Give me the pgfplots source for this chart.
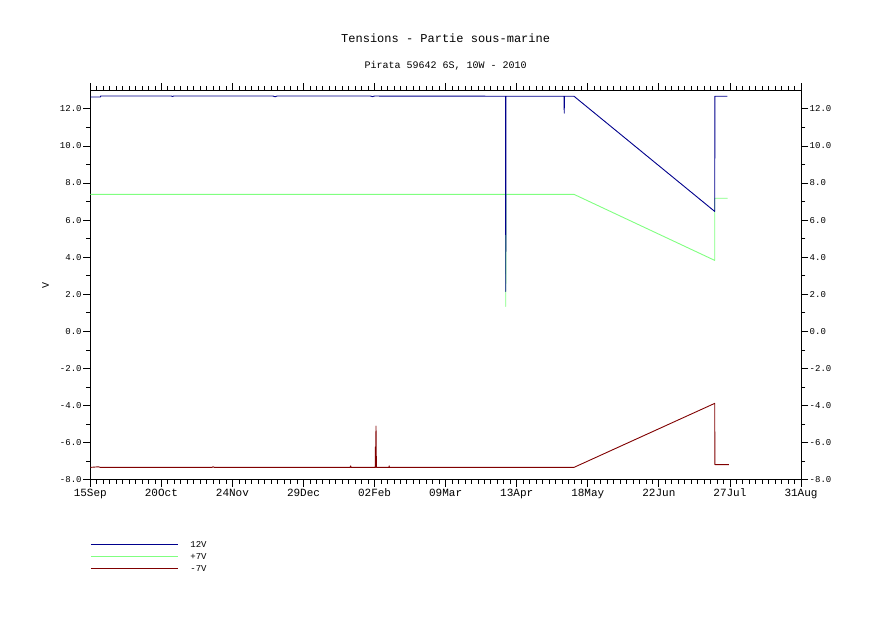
\documentclass[border=0pt]{standalone}
\usepackage{fontspec}
\setmainfont{Liberation Mono}
\usepackage{pgfplots}
\pgfplotsset{compat=1.18}

\definecolor{c12}{RGB}{0,0,140}
\definecolor{cp7}{RGB}{128,255,128}
\definecolor{cm7}{RGB}{128,0,0}

\pgfplotsset{
  ferret/.style={
    width=710.7pt, height=389.5pt, scale only axis,
    xmin=0, xmax=350, ymin=-8, ymax=13,
    tick align=outside,
    major tick length=7pt, minor tick length=4pt,
    every tick/.style={black, line width=0.8pt},
    axis line style={line width=0.9pt},
    ytick={-8,-6,...,12}, minor y tick num=1,
    xtick={0,35,...,350}, minor x tick num=10,
    /pgf/number format/assume math mode=true,
    yticklabel style={font=\fontsize{9}{10}\selectfont, inner sep=1.5pt,
      /pgf/number format/.cd, fixed, fixed zerofill, precision=1},
    xticklabel style={font=\fontsize{11}{12}\selectfont, inner sep=2pt},
  },
}

\begin{document}
\begin{tikzpicture}
\begin{axis}[ferret, name=ax,
  xticklabels={15Sep,20Oct,24Nov,29Dec,02Feb,09Mar,13Apr,18May,22Jun,27Jul,31Aug},
  xtick pos=both, xticklabel pos=bottom,
  ytick pos=both, yticklabel pos=left,
  ylabel={V},
  every axis y label/.style={at={(axis description cs:-0.063,0.5)}, rotate=90, anchor=center,
    font=\fontsize{10}{11}\selectfont},
  legend style={at={(axis description cs:0,-0.153)}, anchor=north west,
    draw=none, fill=none, inner sep=0pt, row sep=2pt,
    font=\fontsize{9}{10}\selectfont,
    nodes={inner sep=1pt, text height=7pt, text depth=1pt}},
  legend cell align=left,
  legend image code/.code={\draw[#1] (0pt,0pt) -- (87pt,0pt);},
  every axis plot/.append style={line width=0.9pt, line join=round},
  clip=false,
]
\addlegendimage{c12, line width=0.9pt}
\addlegendentry{\hspace{11pt}12V}
\addlegendimage{cp7, line width=0.9pt}
\addlegendentry{\hspace{11pt}+7V}
\addlegendimage{cm7, line width=0.9pt}
\addlegendentry{\hspace{11pt}-7V}

% +7V
\addplot[cp7, forget plot] coordinates {
(0,7.39) (204.5,7.39) (204.6,1.35) (204.7,7.39) (238.2,7.39)
(307.5,3.83) (307.5,7.18) (313.9,7.18)
};
% 12V
\addplot[c12, forget plot] coordinates {
(0,12.64) (5,12.64) (5.1,12.69) (40,12.69) (40.5,12.66) (41,12.69)
(90,12.69) (91,12.65) (92,12.69) (138,12.69) (139,12.66) (140,12.69)
(204.5,12.68) (204.6,2.16) (204.7,12.68) (233.3,12.68) (233.4,11.77)
(233.5,12.68) (238.2,12.68) (307.5,6.47) (307.6,12.68) (313.7,12.68)
};
% -7V
\addplot[cm7, forget plot] coordinates {
(0,-7.33) (4,-7.30) (5,-7.33) (60,-7.33) (60.5,-7.29) (61,-7.33)
(128,-7.33) (128.2,-7.25) (128.4,-7.33) (140.3,-7.33) (140.4,-6.23)
(140.5,-7.33) (140.7,-5.10) (140.9,-7.33) (147.1,-7.33) (147.2,-7.25)
(147.3,-7.33) (238.2,-7.33) (307.5,-3.88) (307.6,-7.18) (314.5,-7.18)
};

\node[font=\fontsize{12}{13}\selectfont] at (axis description cs:0.5,1.135) {Tensions - Partie sous-marine};
\node[font=\fontsize{10}{11}\selectfont] at (axis description cs:0.5,1.063) {Pirata 59642 6S, 10W - 2010};
\end{axis}
\begin{axis}[ferret,
  hide x axis, axis y line*=right,
  ytick pos=right, yticklabel pos=right,
]
\end{axis}
\pgfresetboundingbox
\path[use as bounding box] ([shift={(-90.3pt,-150.5pt)}]ax.south west) rectangle ([shift={(90pt,90.3pt)}]ax.north east);
\end{tikzpicture}
\end{document}
